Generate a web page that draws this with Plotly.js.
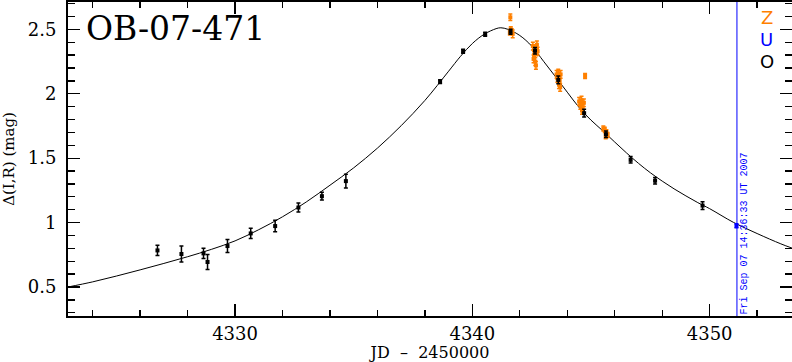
<!DOCTYPE html>
<html>
<head>
<meta charset="utf-8">
<script src="https://cdn.plot.ly/plotly-3.0.1.min.js"></script>
<style>html,body{margin:0;padding:0;background:#fff;}#chart{width:792px;height:362px;}</style>
</head>
<body>
<div id="chart"></div>
<script>
// Model light curve
var modelJD  = [4322.96,4324.0,4325.0,4326.0,4327.0,4328.0,4329.0,4330.0,4331.0,4332.0,4333.0,4334.0,4335.0,4336.0,4337.0,4338.0,4339.0,4339.5,4340.0,4340.5,4341.0,4341.2,4341.5,4342.0,4342.5,4343.0,4343.5,4344.0,4344.5,4345.0,4345.5,4346.0,4346.5,4347.0,4347.5,4348.0,4348.5,4349.0,4349.5,4350.0,4351.0,4352.0,4353.0,4353.47];
var modelMag = [0.500,0.540,0.585,0.633,0.683,0.735,0.792,0.858,0.945,1.045,1.160,1.290,1.425,1.578,1.752,1.948,2.175,2.290,2.390,2.462,2.505,2.512,2.500,2.452,2.370,2.252,2.133,2.012,1.893,1.795,1.712,1.625,1.540,1.460,1.387,1.322,1.262,1.207,1.155,1.108,1.002,0.915,0.835,0.802];

// OGLE (O) points
var oJD  = [4326.73,4327.74,4328.67,4328.84,4329.68,4330.66,4331.69,4332.67,4333.66,4334.67,4338.64,4339.61,4340.54,4341.61,4342.64,4343.62,4344.71,4345.63,4346.67,4347.70,4349.70];
var oMag = [0.784,0.756,0.761,0.694,0.818,0.916,0.973,1.117,1.205,1.322,2.094,2.330,2.462,2.481,2.334,2.107,1.849,1.686,1.487,1.325,1.132];
var oErr = [0.040,0.062,0.040,0.058,0.050,0.040,0.045,0.035,0.030,0.053,0.015,0.015,0.015,0.020,0.025,0.030,0.030,0.025,0.025,0.025,0.030];

// Z points
var zJD  = [4341.60,4341.62,4341.66,4341.70,4341.58,
            4342.55,4342.62,4342.72,4342.75,4342.60,4342.58,4342.65,4342.68,4342.70,
            4343.55,4343.62,4343.72,4343.58,4343.68,4343.65,4343.70,
            4344.75,
            4344.50,4344.60,4344.70,4344.55,4344.65,4344.62,
            4345.52,4345.58,4345.65,4345.70,4345.62];
var zMag = [2.593,2.500,2.485,2.465,2.475,
            2.370,2.350,2.380,2.330,2.300,2.270,2.250,2.220,2.320,
            2.150,2.160,2.150,2.120,2.100,2.070,2.050,
            2.138,
            1.940,1.950,1.930,1.910,1.890,1.870,
            1.730,1.720,1.700,1.680,1.670];
var zErr = [0.025,0.020,0.020,0.030,0.020,
            0.030,0.030,0.030,0.030,0.030,0.030,0.030,0.030,0.025,
            0.030,0.030,0.030,0.030,0.030,0.030,0.030,
            0.020,
            0.030,0.030,0.030,0.030,0.030,0.030,
            0.020,0.020,0.020,0.020,0.020];

// U point
var uJD  = [4351.13];
var uMag = [0.975];
var uErr = [0.015];

var nowJD = 4351.15;
var nowLabel = "Fri Sep 07 14:36:33 UT 2007";
var eventName = "OB-07-471";

var traces = [
  {x: modelJD, y: modelMag, mode: 'lines', line: {color: 'black', width: 1, shape: 'spline'}, hoverinfo: 'skip'},
  {x: zJD, y: zMag, mode: 'markers', marker: {color: 'rgb(255,128,0)', size: 4, symbol: 'square'},
   error_y: {type: 'data', array: zErr, visible: true, color: 'rgb(255,128,0)', thickness: 1.5, width: 2}},
  {x: oJD, y: oMag, mode: 'markers', marker: {color: 'black', size: 4, symbol: 'square'},
   error_y: {type: 'data', array: oErr, visible: true, color: 'black', thickness: 1.5, width: 2}},
  {x: uJD, y: uMag, mode: 'markers', marker: {color: 'blue', size: 4, symbol: 'square'},
   error_y: {type: 'data', array: uErr, visible: true, color: 'blue', thickness: 1.5, width: 2}}
];

var tickFont = {family: 'DejaVu Serif', size: 18, color: 'black'};

var layout = {
  width: 792, height: 362,
  margin: {l: 68, r: 0, t: 2, b: 46},
  paper_bgcolor: 'white', plot_bgcolor: 'white',
  showlegend: false,
  xaxis: {
    range: [4322.96, 4353.47], dtick: 10, tick0: 4320,
    ticks: 'inside', ticklen: 12, tickwidth: 1.3, tickcolor: 'black',
    minor: {dtick: 2, ticks: 'inside', ticklen: 6, tickwidth: 1.3, tickcolor: 'black'},
    showline: true, linecolor: 'black', linewidth: 2, mirror: 'ticks',
    showgrid: false, zeroline: false, tickfont: tickFont, ticklabelstandoff: 0,
    title: {text: 'JD\u00a0\u00a0\u2013\u00a0\u00a02450000', font: {family: 'DejaVu Serif', size: 16, color: 'black'}, standoff: 10}
  },
  yaxis: {
    range: [0.275, 2.712], dtick: 0.5, tick0: 0,
    ticks: 'inside', ticklen: 12, tickwidth: 1.3, tickcolor: 'black',
    minor: {dtick: 0.1, ticks: 'inside', ticklen: 7, tickwidth: 1.3, tickcolor: 'black'},
    showline: true, linecolor: 'black', linewidth: 2, mirror: 'ticks',
    showgrid: false, zeroline: false, tickfont: tickFont, ticklabelstandoff: 6,
    title: {text: '\u0394(I,R) (mag)', font: {family: 'DejaVu Serif', size: 15, color: 'black'}, standoff: 10}
  },
  shapes: [
    {type: 'line', xref: 'x', yref: 'paper', x0: nowJD, x1: nowJD, y0: 0, y1: 1, line: {color: 'blue', width: 1}}
  ],
  annotations: [
    {text: eventName, xref: 'paper', yref: 'paper', x: 0.022, y: 0.985, xanchor: 'left', yanchor: 'top', showarrow: false,
     font: {family: 'DejaVu Serif', size: 33, color: 'black'}},
    {text: 'Z', xref: 'paper', yref: 'paper', x: 0.965, y: 0.952, xanchor: 'center', yanchor: 'middle', showarrow: false,
     font: {family: 'DejaVu Sans', size: 18, color: 'rgb(255,128,0)'}},
    {text: 'U', xref: 'paper', yref: 'paper', x: 0.965, y: 0.881, xanchor: 'center', yanchor: 'middle', showarrow: false,
     font: {family: 'DejaVu Sans', size: 18, color: 'blue'}},
    {text: 'O', xref: 'paper', yref: 'paper', x: 0.965, y: 0.812, xanchor: 'center', yanchor: 'middle', showarrow: false,
     font: {family: 'DejaVu Sans', size: 18, color: 'black'}},
    {text: nowLabel, xref: 'x', yref: 'paper', x: nowJD, y: 0, xanchor: 'left', yanchor: 'bottom', xshift: 0, yshift: 0,
     textangle: -90, showarrow: false, font: {family: 'Liberation Mono', size: 10, color: 'blue'}}
  ]
};

Plotly.newPlot('chart', traces, layout, {displayModeBar: false, staticPlot: true});
</script>
</body>
</html>
